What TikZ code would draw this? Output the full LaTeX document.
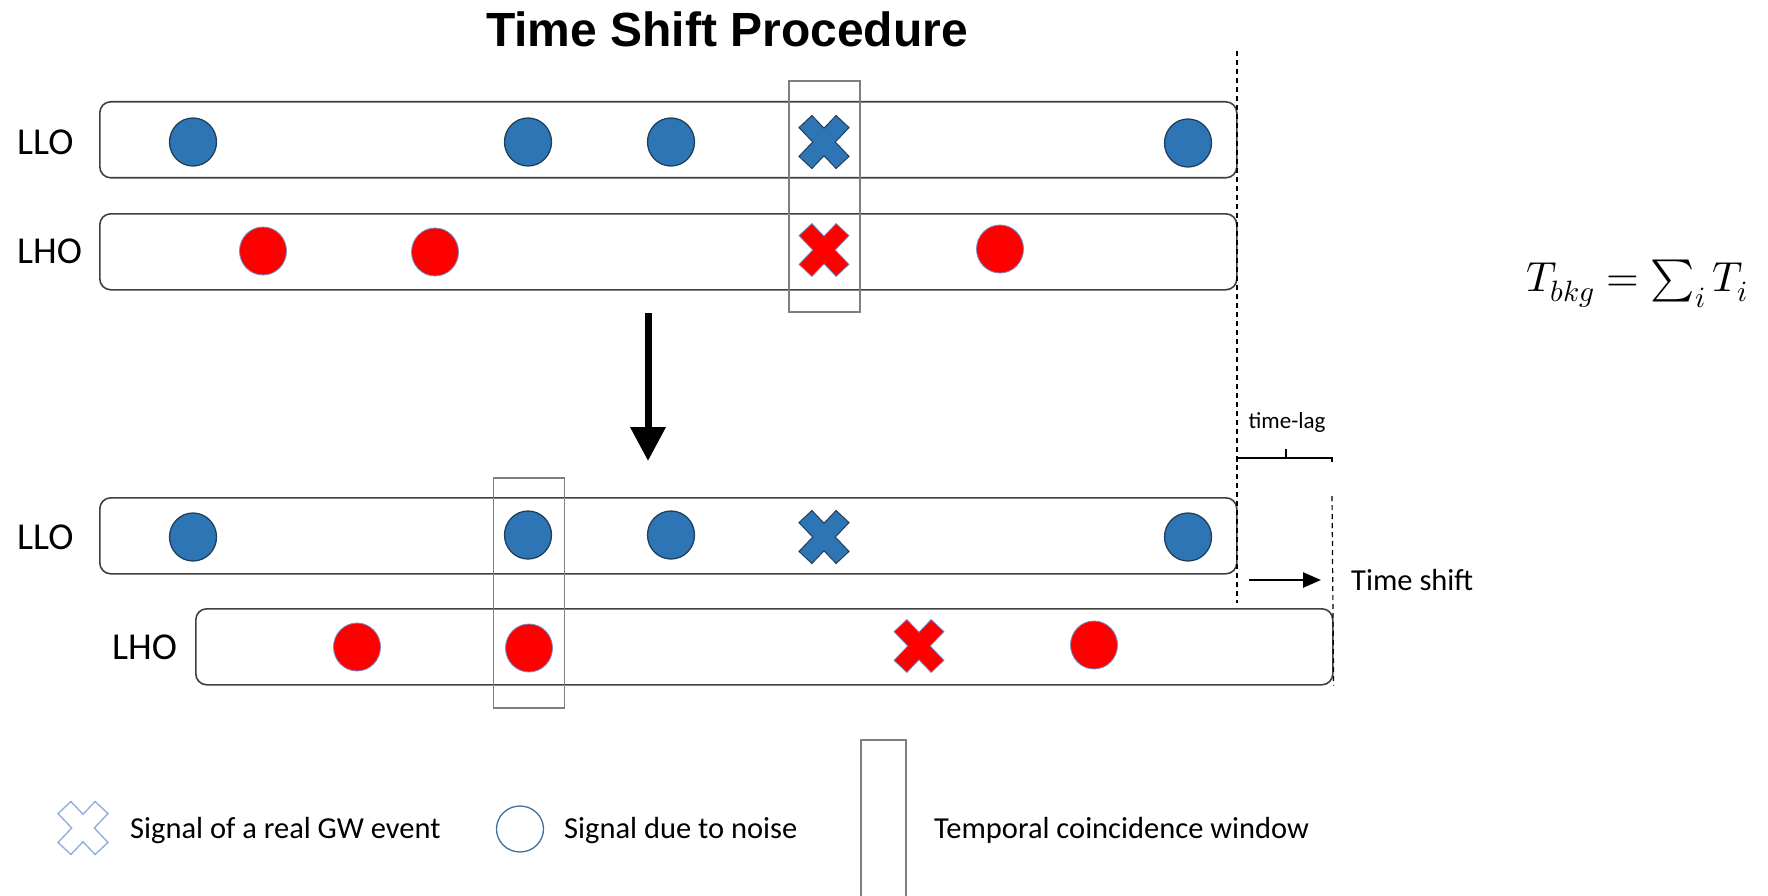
\documentclass[tikz,border=0pt]{standalone}
\usepackage{fontspec}
\usepackage{unicode-math}
\setmainfont{Carlito}
\setmathfont{Latin Modern Math}
\newfontfamily\titlefont{Liberation Sans}
\usetikzlibrary{shapes.geometric,arrows.meta}
\definecolor{dotblue}{HTML}{2E75B6}
\definecolor{dotedge}{HTML}{223F5A}
\definecolor{redfill}{HTML}{FF0000}
\definecolor{rededge}{HTML}{6F8FC8}
\definecolor{boxedge}{HTML}{404040}
\definecolor{winedge}{HTML}{7F7F7F}
\definecolor{legedge}{HTML}{8FAADC}
\definecolor{legcirc}{HTML}{41719C}
\tikzset{
  detbox/.style={draw=boxedge, line width=1.6pt, rounded corners=11pt, fill=white,
    minimum width=1137pt, minimum height=76pt, inner sep=0pt, anchor=north west},
  winbox/.style={draw=winedge, line width=1.5pt, inner sep=0pt, minimum width=71pt},
  bdot/.style={ellipse, draw=dotedge, fill=dotblue, line width=1.3pt,
    minimum width=47pt, minimum height=48pt, inner sep=0pt},
  rdot/.style={ellipse, draw=rededge, fill=redfill, line width=0.8pt,
    minimum width=47pt, minimum height=48pt, inner sep=0pt},
  lbl/.style={font=\fontsize{38}{44}\selectfont, anchor=west, inner sep=0pt},
  legtxt/.style={font=\fontsize{30.5}{36}\selectfont, anchor=base west, inner sep=0pt},
  gwx/.pic={\path[pic actions] (-25,-14.4) -- (-12.1,-26.5) -- (0,-13.8) -- (12.1,-26.5)
     -- (25,-14.4) -- (11.3,0) -- (25,14.4) -- (12.1,26.5) -- (0,13.8) -- (-12.1,26.5)
     -- (-25,14.4) -- (-11.3,0) -- cycle;},
  bx/.style={fill=dotblue, draw=dotedge, line width=1pt},
  rx/.style={fill=redfill, draw=rededge, line width=0.8pt},
  dashln/.style={draw=black, line width=1.2pt, dash pattern=on 5pt off 4pt},
}
\begin{document}
\begin{tikzpicture}[x=1pt, y=-1pt]
\useasboundingbox (0,0) rectangle (1768,896);
\clip (0,0) rectangle (1768,896);

% title
\node[font=\titlefont\bfseries\fontsize{48}{56}\selectfont, anchor=base, inner sep=0pt] (title) at (727,47) {Time Shift Procedure};

% top pair
\node[detbox] (llo1) at (99,101) {};
\node[detbox] (lho1) at (99,213) {};
\node[lbl] (llo1l) at (17,142) {LLO};
\node[lbl] (lho1l) at (17,251) {LHO};
\node[winbox, minimum height=231pt] (w1) at (824.5,196.5) {};

\node[bdot] (a1) at (193,142) {};
\node[bdot] (a2) at (528,142) {};
\node[bdot] (a3) at (671,142) {};
\node[bdot] (a4) at (1188,143) {};
\pic[bx] (ax) at (824,142) {gwx};
\node[rdot] (b1) at (263,251) {};
\node[rdot] (b2) at (435,252) {};
\node[rdot] (b3) at (1000,249) {};
\pic[rx] (bxx) at (824,250) {gwx};

% big arrow
\coordinate (ar1) at (648,313);
\coordinate (ar2) at (648,461);
\draw[line width=7pt, -{Triangle[width=34pt,length=34pt]}] (ar1) -- (ar2);

% bottom pair
\node[detbox] (llo2) at (99,497) {};
\node[detbox] (lho2) at (195,608) {};
\node[lbl] (llo2l) at (17,537) {LLO};
\node[lbl] (lho2l) at (112,647) {LHO};
\node[winbox, minimum height=230pt] (w2) at (529,593) {};

\node[bdot] (c1) at (193,537) {};
\node[bdot] (c2) at (528,535) {};
\node[bdot] (c3) at (671,535) {};
\node[bdot] (c4) at (1188,537) {};
\pic[bx] (cx) at (824,537) {gwx};
\node[rdot] (d1) at (357,647) {};
\node[rdot] (d2) at (529,648) {};
\node[rdot] (d3) at (1094,645) {};
\pic[rx] (dxx) at (919,646) {gwx};

% dashed guides
\coordinate (g1top) at (1237,51);
\coordinate (g1bot) at (1237,603);
\draw[dashln] (g1top) -- (g1bot);
\coordinate (g2top) at (1332,496);
\draw[dashln] (g2top) -- (lho2.south east);

% time-lag bracket
\node[font=\fontsize{23}{28}\selectfont, anchor=base, inner sep=0pt] (tl) at (1287,428) {time-lag};
\coordinate (brl) at (1237,462);
\coordinate (brr) at (1332,462);
\coordinate (brc) at (1286,449);
\draw[line width=2pt] (brl) -- ++(0,-4) -- ([yshift=4pt]brr) -- (brr);
\draw[line width=2pt] (brc) -- (brc |- 0,458);

% time shift arrow
\coordinate (ts1) at (1249,580);
\coordinate (ts2) at (1321,580);
\draw[line width=2.5pt, -{Triangle[width=15pt,length=18pt]}] (ts1) -- (ts2);
\node[legtxt] (tstext) at (1351,590) {Time shift};

% formula
\node[font=\fontsize{42}{50}\selectfont, anchor=base, inner sep=0pt] (formula) at (1637,291) {$T_{bkg}=\sum_i T_i$};

% legend
\pic[draw=legedge, line width=1.3pt, fill=white] (lgx) at (83,828) {gwx};
\node[legtxt] (lg1) at (130,838) {Signal of a real GW event};
\node[ellipse, draw=legcirc, line width=1.3pt, minimum width=47pt, minimum height=46pt, inner sep=0pt] (lgc) at (520,829) {};
\node[legtxt] (lg2) at (564,838) {Signal due to noise};
\node[winbox, minimum width=45pt, minimum height=170pt, anchor=north west] (lgw) at (860,739) {};
\node[legtxt] (lg3) at (934,838) {Temporal coincidence window};
\end{tikzpicture}
\end{document}
